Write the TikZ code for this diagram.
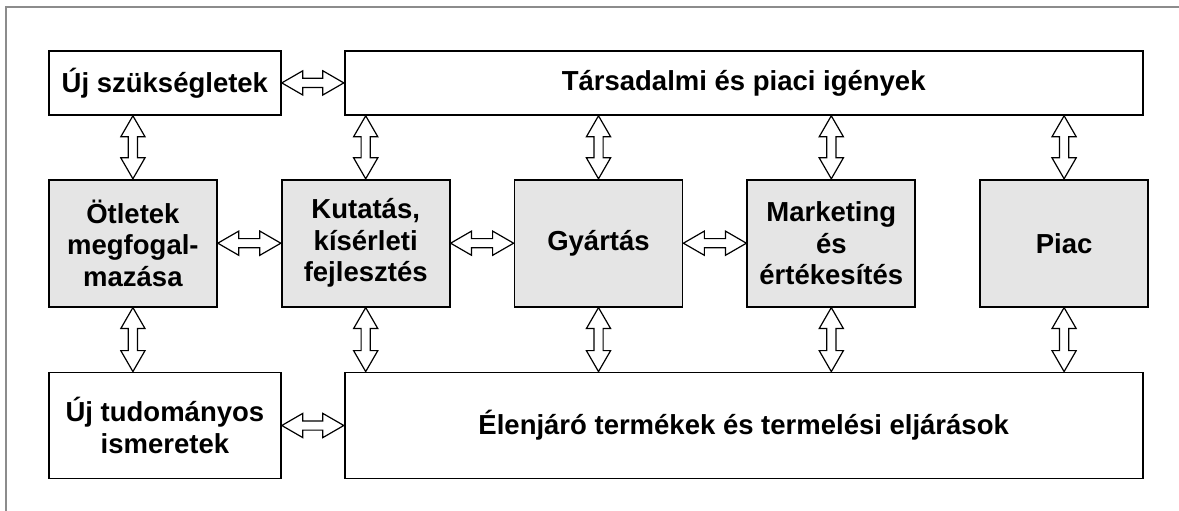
\documentclass[tikz,border=0pt]{standalone}
\usepackage{fontspec}
\setmainfont{Liberation Sans}
\usetikzlibrary{positioning, calc, shapes.arrows}

\begin{document}
\begin{tikzpicture}[
        box/.style = {draw, black, line width=1.8pt, minimum height=64pt, inner sep=0pt, align=center, font=\fontsize{27.5}{31.5}\selectfont\bfseries},%
        grey/.style = {box, fill=black!10, minimum width=168pt, minimum height=127pt},%
        blockarrow/.style = {double arrow, draw, black, fill=white, line width=1.2pt, inner xsep=0pt, inner ysep=4pt, outer sep=0pt, minimum width=0pt, double arrow head extend=7.5pt, double arrow tip angle=60},%
        arrow/.style = {to path={let \p1=($(\tikztotarget)-(\tikztostart)$), \n1={veclen(\x1,\y1)}, \n2={atan2(\y1,\x1)} in node[blockarrow, minimum height=\n1, rotate=\n2] at ($(\tikztostart)!0.5!(\tikztotarget)$) {}}}%
    ]%
        \useasboundingbox (0pt,0pt) rectangle (1179pt,-511pt);
        \draw[black!45, line width=1.5pt] (6pt,-511pt) |- (1179pt,-7pt);
        \node[box, minimum width=232pt, anchor=north west] (ujszuk) at (48pt,-50pt) {Új szükségletek};
        \node[box, minimum width=798pt, right=62pt of ujszuk] (tars) {Társadalmi és piaci igények};
        \node[grey, below=63pt of ujszuk.south west, anchor=north west] (otlet) {Ötletek\\megfogal-\\mazása};
        \node[grey, right=63pt of otlet] (kutat) {Kutatás,\\kísérleti\\fejlesztés};
        \node[grey, right=63pt of kutat] (gyart) {Gyártás};
        \node[grey, right=63pt of gyart] (market) {Marketing\\és\\értékesítés};
        \node[grey, right=63pt of market] (piac) {Piac};
        \node[box, minimum width=232pt, minimum height=106pt, below=64pt of otlet.south west, anchor=north west] (ujtud) {Új tudományos\\ismeretek};
        \node[box, minimum width=798pt, minimum height=106pt, right=62pt of ujtud] (elen) {Élenjáró termékek és termelési eljárások};
        \draw[arrow] (ujszuk.east) to (tars.west);
        \draw[arrow] (otlet.east) to (kutat.west);
        \draw[arrow] (kutat.east) to (gyart.west);
        \draw[arrow] (gyart.east) to (market.west);
        \draw[arrow] (ujtud.east) to (elen.west);
        \draw[arrow] (ujszuk.south -| otlet.north) to (otlet.north);
        \draw[arrow] (tars.south -| kutat.north) to (kutat.north);
        \draw[arrow] (tars.south -| gyart.north) to (gyart.north);
        \draw[arrow] (tars.south -| market.north) to (market.north);
        \draw[arrow] (tars.south -| piac.north) to (piac.north);
        \draw[arrow] (otlet.south) to (ujtud.north -| otlet.south);
        \draw[arrow] (kutat.south) to (elen.north -| kutat.south);
        \draw[arrow] (gyart.south) to (elen.north -| gyart.south);
        \draw[arrow] (market.south) to (elen.north -| market.south);
        \draw[arrow] (piac.south) to (elen.north -| piac.south);
    \end{tikzpicture}
\end{document}
